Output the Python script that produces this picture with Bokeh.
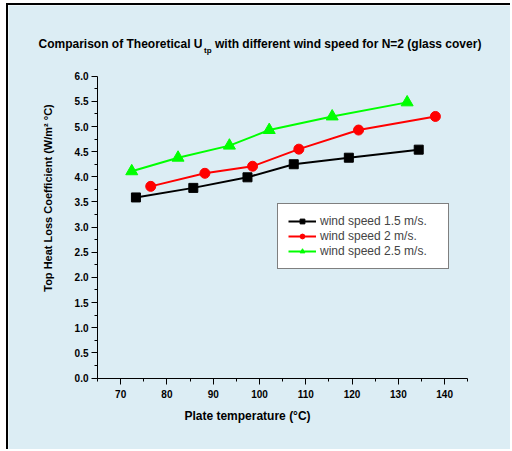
import math
from bokeh.plotting import figure
from bokeh.models import Range1d, Label, Legend, LegendItem, FixedTicker, PrintfTickFormatter
from bokeh.embed import file_html
from bokeh.resources import INLINE

# ---- data ----
temp_15 = [73.3, 85.7, 97.4, 107.4, 119.3, 134.4]
u_15 = [3.59, 3.78, 3.99, 4.25, 4.38, 4.54]
temp_20 = [76.5, 88.2, 98.5, 108.5, 121.4, 138.0]
u_20 = [3.81, 4.07, 4.21, 4.55, 4.93, 5.20]
temp_25 = [72.4, 82.4, 93.5, 102.1, 115.7, 131.9]
u_25 = [4.11, 4.38, 4.62, 4.93, 5.20, 5.48]
series_labels = ["wind speed 1.5 m/s.", "wind speed 2 m/s.", "wind speed 2.5 m/s."]
x_ticks = [70, 80, 90, 100, 110, 120, 130, 140]
x_minor = [65, 75, 85, 95, 105, 115, 125, 135, 145]
y_ticks = [0.0, 0.5, 1.0, 1.5, 2.0, 2.5, 3.0, 3.5, 4.0, 4.5, 5.0, 5.5, 6.0]
y_minor = [0.25, 0.75, 1.25, 1.75, 2.25, 2.75, 3.25, 3.75, 4.25, 4.75, 5.25, 5.75]
x_bounds = (65, 145)
y_bounds = (0, 6)
title_main = "Comparison of Theoretical U"
title_sub = "tp"
title_rest = " with different wind speed for N=2 (glass cover)"
x_title = "Plate temperature (°C)"
y_title = "Top Heat Loss Coefficient (W/m² °C)"

BG = "#dcedf4"
FONT = "Liberation Sans"

# The frame fills the whole canvas (so that no text is clipped); the axes are
# placed inside it at x=65 / y=0 and bounded to the plotted extent.
p = figure(width=504, height=446, output_backend="svg", toolbar_location=None,
           x_range=Range1d(45.77, 154.66), y_range=Range1d(-1.461, 7.406),
           min_border=0, min_border_left=0, min_border_right=0,
           min_border_top=0, min_border_bottom=0)
p.background_fill_color = BG
p.border_fill_color = BG
p.outline_line_color = None
p.grid.visible = False
p.styles = {"border-left": "2px solid black", "border-top": "2px solid black",
            "margin-left": "6px", "margin-top": "3px"}

p.xaxis[0].fixed_location = y_bounds[0]
p.yaxis[0].fixed_location = x_bounds[0]

for ax, ticks, minor, bounds in ((p.xaxis[0], x_ticks, x_minor, x_bounds),
                                 (p.yaxis[0], y_ticks, y_minor, y_bounds)):
    ax.ticker = FixedTicker(ticks=ticks, minor_ticks=minor)
    ax.bounds = bounds
    ax.axis_line_color = "black"
    ax.axis_line_width = 1
    ax.major_tick_in = 0
    ax.major_tick_out = 6
    ax.minor_tick_in = 0
    ax.minor_tick_out = 3
    ax.major_tick_line_color = "black"
    ax.minor_tick_line_color = "black"
    ax.major_label_text_font = FONT
    ax.major_label_text_font_style = "bold"
    ax.major_label_text_font_size = "10px"
    ax.major_label_text_color = "black"

p.yaxis[0].formatter = PrintfTickFormatter(format="%.1f")
p.yaxis[0].major_label_standoff = 3
p.xaxis[0].major_label_standoff = 6

l1 = p.line(temp_15, u_15, line_color="black", line_width=2)
s1 = p.scatter(temp_15, u_15, marker="square", size=9, color="black")
l2 = p.line(temp_20, u_20, line_color="#ff0000", line_width=2)
s2 = p.scatter(temp_20, u_20, marker="circle", size=10, color="#ff0000")
l3 = p.line(temp_25, u_25, line_color="#00ff00", line_width=2)
s3 = p.scatter(temp_25, u_25, marker="triangle", size=12, color="#00ff00")

legend = Legend(items=[LegendItem(label=series_labels[0], renderers=[l1, s1]),
                       LegendItem(label=series_labels[1], renderers=[l2, s2]),
                       LegendItem(label=series_labels[2], renderers=[l3, s3])],
                location=(269, 182))
legend.border_line_color = "black"
legend.border_line_width = 1
legend.background_fill_color = "white"
legend.background_fill_alpha = 1
legend.label_text_font = FONT
legend.label_text_font_size = "12px"
legend.label_width = 118
legend.glyph_width = 28
legend.glyph_height = 12
legend.label_height = 14
legend.spacing = 1
legend.padding = 10
legend.margin = 0
legend.label_standoff = 4
p.add_layout(legend)

def screen_label(x, y, text, size, align="left", angle=0.0):
    p.add_layout(Label(x=x, y=y, x_units="screen", y_units="screen", text=text,
                       text_font=FONT, text_font_style="bold", text_font_size=size,
                       text_color="black", text_align=align, text_baseline="middle",
                       angle=angle))

ty = 407.5
screen_label(194, ty, title_main, "12px", "right")
screen_label(195.5, ty - 6, title_sub, "8px", "left")
screen_label(206.5, ty, title_rest, "12px", "left")
screen_label(239, 35.5, x_title, "12px", "center")
screen_label(39.5, 253.5, y_title, "11px", "center", angle=math.pi / 2)

open("out.html", "w").write(file_html(p, INLINE))
